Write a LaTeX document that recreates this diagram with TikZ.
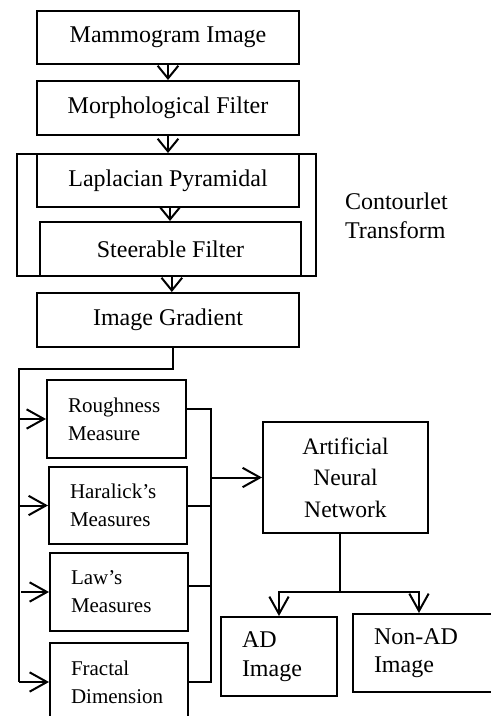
\documentclass[tikz,border=0pt]{standalone}
\usepackage{fontspec}
\setmainfont{Liberation Serif}
\usetikzlibrary{arrows.meta}
\begin{document}
\begin{tikzpicture}[x=0.75pt,y=-0.75pt,
  line width=1.5pt,
  box/.style={draw,line width=1.5pt,inner sep=0pt,font=\fontsize{18}{22}\selectfont},
  mainbox/.style={box,minimum width=196.5pt,minimum height=40.5pt},
  lbox/.style={box,align=left,inner xsep=15.75pt,text width=72pt,minimum width=103.5pt,minimum height=58.5pt,font=\fontsize{15.75}{21}\selectfont},
  obox/.style={box,align=left,inner xsep=15.75pt,font=\fontsize{18}{21.5}\selectfont},
  arr/.style={-{Straight Barb[length=9.5pt,width=15.5pt]}},
  larr/.style={-{Straight Barb[length=13pt,width=14.5pt]}},
  lbl/.style={inner sep=0pt,align=left,font=\fontsize{18}{22}\selectfont}
]
\useasboundingbox (0,0) rectangle (491,716);
\clip (0,0) rectangle (491,716);

% main column
\node[mainbox,minimum height=39.75pt] (mam) at (168,37.5) {Mammogram Image};
\node[mainbox] (mor) at (168,108) {Morphological Filter};
\draw (17,154) rectangle (316,276);
\node[mainbox,minimum height=39.75pt] (lap) at (168,180.5) {Laplacian Pyramidal};
\node[mainbox,minimum width=195.75pt] (ste) at (170.5,249) {Steerable Filter};
\node[lbl,anchor=north west] (ct) at (344,192) {Contourlet\\Transform};
\node[mainbox] (ig) at (168,320) {Image Gradient};

\draw[arr] (mam) -- (mor);
\draw[arr] (mor) -- (lap);
\draw[arr] ([xshift=1.5pt]lap.south) -- ([xshift=1.5pt]lap.south |- ste.north);
\draw[arr] ([xshift=1pt]ste.south) -- ([xshift=1pt]ste.south |- ig.north);

% feature boxes
\node[lbox,text width=72.75pt,minimum width=104.25pt] (rough) at (116.5,419) {Roughness\\Measure};
\node[lbox,minimum height=57.75pt] (har) at (118,505.5) {Haralick’s\\Measures};
\node[lbox] (law) at (119,592) {Law’s\\Measures};
\node[lbox] (fra) at (119,682) {Fractal\\Dimension};

\coordinate (tl) at (19,369);
\draw ([xshift=3.75pt]ig.south) |- (tl) -- (tl |- fra.west);
\draw[larr] (tl |- rough.west) -- (rough.west);
\draw[larr] (tl |- har.west) -- (har.west);
\draw[larr] ([xshift=1.5pt]tl |- law.west) -- (law.west);
\draw[larr] (tl |- fra.west) -- (fra.west);

% collector
\coordinate (cb) at (211,682);
\draw ([yshift=7.5pt]rough.east) -| (cb) -- (fra.east);
\draw (har.east) -- (har.east -| cb);
\draw ([yshift=4.5pt]law.east) -- ([yshift=4.5pt]law.east -| cb);

% ANN and outputs
\node[box,align=center,minimum width=123.75pt,minimum height=83.25pt,font=\fontsize{17.7}{23.6}\selectfont] (ann) at (345.5,477.5) {Artificial\\Neural\\Network};
\draw[larr] (ann.west -| cb) -- (ann.west);

\node[obox,text width=55.5pt,minimum width=87pt,minimum height=59.25pt] (ad) at (279,656.5) {AD\\Image};
\node[obox,text width=74.25pt,minimum width=105.75pt,minimum height=58.5pt] (nad) at (423.5,653) {Non-AD\\Image};

\coordinate (aj) at (340,592);
\draw ([xshift=-4.125pt]ann.south) -- (aj);
\draw[larr] (aj) -| (ad.north);
\draw[larr] (aj) -| ([xshift=-3.375pt]nad.north);
\end{tikzpicture}
\end{document}
